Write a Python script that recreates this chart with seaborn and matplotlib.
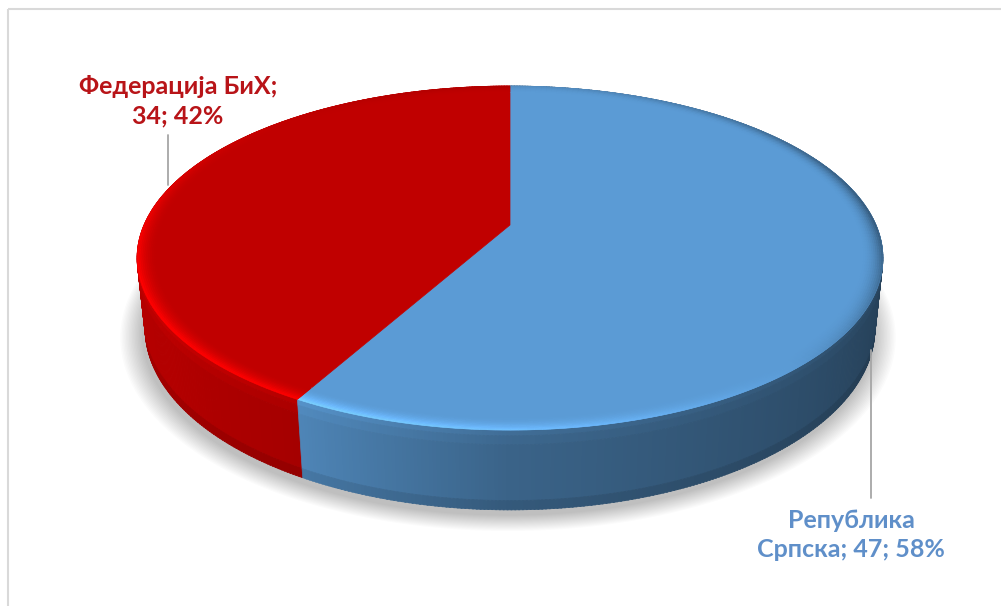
import numpy as np
import matplotlib
matplotlib.use("Agg")
import matplotlib.pyplot as plt
import seaborn as sns
from matplotlib.collections import PolyCollection
from matplotlib.patches import Polygon, Rectangle
from matplotlib.colors import to_rgb

# Data: mandates by entity
entities = ["Република Српска", "Федерација БиХ"]
seats = [47, 34]
shares = ["58%", "42%"]
label_texts = ["Република\nСрпска; 47; 58%", "Федерација БиХ;\n34; 42%"]

sns.set_theme(style="white")
palette = sns.color_palette(["#5b9bd5", "#c00000"])
label_colors = ["#5f8fc9", "#b81418"]
plt.rcParams["font.family"] = ["Lato", "DejaVu Sans"]

W, H = 1001, 606
fig = plt.figure(figsize=(W / 100, H / 100), dpi=100)
ax = fig.add_axes([0, 0, 1, 1])

# Angles of the slices come from the pie routine
wedges, _ = ax.pie(seats, colors=palette, startangle=90, counterclock=False,
                   wedgeprops=dict(linewidth=0))
spans = [(min(w.theta1, w.theta2), max(w.theta1, w.theta2)) for w in wedges]
for w in wedges:
    w.remove()
ax.set_aspect("auto")
ax.set_xlim(0, W)
ax.set_ylim(H, 0)
ax.axis("off")

# Perspective view of a tilted disk
cx, cy = 510, 225          # screen position of the disk centre
S = 366                    # disk radius on screen
tilt_c, tilt_s = 0.4527, 0.8917
D = 4.644                  # camera distance (disk radii)
h = 0.216                  # disk thickness (disk radii)


def proj(phi_deg, r=1.0, w=0.0):
    t = np.radians(phi_deg)
    u, v = r * np.cos(t), r * np.sin(t)
    d = D + v * tilt_s - w * tilt_c
    return cx + S * u * D / d, cy - S * (v * tilt_c + w * tilt_s) * D / d


def shade(color, f):
    c = np.array(to_rgb(color))
    return tuple(np.clip(c * f, 0, 1))


def side_light(phi):
    p = phi % 360
    if p < 90:
        p += 360
    return np.interp(p, [150, 180, 215, 241, 270, 300, 330, 360, 400],
                     [0.95, 0.95, 0.93, 0.86, 0.64, 0.54, 0.45, 0.38, 0.34])


# Soft shadow under the pie
for k in range(16):
    r = 1.06 - k * 0.0038
    phis = np.linspace(0, 360, 361)
    xs, ys = proj(phis, r, -h)
    ax.add_patch(Polygon(np.column_stack([xs - 2, ys + 5]), closed=True,
                         facecolor="#000000", alpha=0.014, edgecolor="none", zorder=1))

# Side wall, painted from back to front
strips = []
step = 0.5
for (lo, hi), col in zip(spans, palette):
    for a in np.arange(lo, hi, step):
        b = min(a + step + 0.15, hi)
        am = (a + b) / 2
        light = side_light(am)
        bands = [(0.0, 0.07, 1.10), (0.07, 0.18, 1.04), (0.18, 0.88, 1.0), (0.88, 1.0, 0.9)]
        for f0, f1, bf in bands:
            x1, y1 = proj(a, 1, -h * f0)
            x2, y2 = proj(b, 1, -h * f0)
            x3, y3 = proj(b, 1, -h * f1)
            x4, y4 = proj(a, 1, -h * f1)
            strips.append((np.sin(np.radians(am)),
                           [(x1, y1), (x2, y2), (x3, y3), (x4, y4)],
                           shade(col, light * bf)))
strips.sort(key=lambda s: -s[0])
ax.add_collection(PolyCollection([s[1] for s in strips],
                                 facecolors=[s[2] for s in strips],
                                 edgecolors=[s[2] for s in strips],
                                 linewidths=0.5, zorder=2))

# Top face of each slice
for (lo, hi), col in zip(spans, palette):
    phis = np.linspace(lo, hi, 300)
    xs, ys = proj(phis)
    pts = np.vstack([[proj(0, 0.0)], np.column_stack([xs, ys])])
    ax.add_patch(Polygon(pts, closed=True, facecolor=col, edgecolor=col,
                         lw=0.5, zorder=3))

# Rounded bevel along the rim of the top face
rim_polys, rim_cols = [], []
radii = np.linspace(1.0, 0.945, 12)
for (lo, hi), col in zip(spans, palette):
    for a in np.arange(lo, hi, 1.0):
        b = min(a + 1.0, hi)
        am = np.radians((a + b) / 2)
        amp = 0.40 * np.cos(am - np.radians(222))
        amp *= 1 - 0.75 * max(np.sin(am), 0)
        if amp < 0:
            amp *= 1.5
        for r0, r1 in zip(radii[:-1], radii[1:]):
            prof = ((0.5 * (r0 + r1) - 0.945) / 0.055) ** 2
            c = shade(col, 1 + amp * prof)
            x1, y1 = proj(a, r0)
            x2, y2 = proj(b, r0)
            x3, y3 = proj(b, r1)
            x4, y4 = proj(a, r1)
            rim_polys.append([(x1, y1), (x2, y2), (x3, y3), (x4, y4)])
            rim_cols.append(c)
ax.add_collection(PolyCollection(rim_polys, facecolors=rim_cols, edgecolors=rim_cols,
                                 linewidths=0.4, zorder=4))

# Leader lines and labels
ax.plot([871, 871], [350, 498], color="#a6a6a6", lw=1.3, zorder=5)
ax.plot([168, 168], [135, 185], color="#a6a6a6", lw=1.3, zorder=5)
ax.text(851, 535, label_texts[0], ha="center", va="center", fontsize=18,
        fontweight="bold", color=label_colors[0], linespacing=1.32, zorder=6)
ax.text(178, 101, label_texts[1], ha="center", va="center", fontsize=18,
        fontweight="bold", color=label_colors[1], linespacing=1.32, zorder=6)

# Chart frame
ax.add_patch(Rectangle((8, 9), 1100, 700, facecolor="none", edgecolor="#d9d9d9",
                       lw=1.5, zorder=0))

fig.savefig("out.png", dpi=100)
